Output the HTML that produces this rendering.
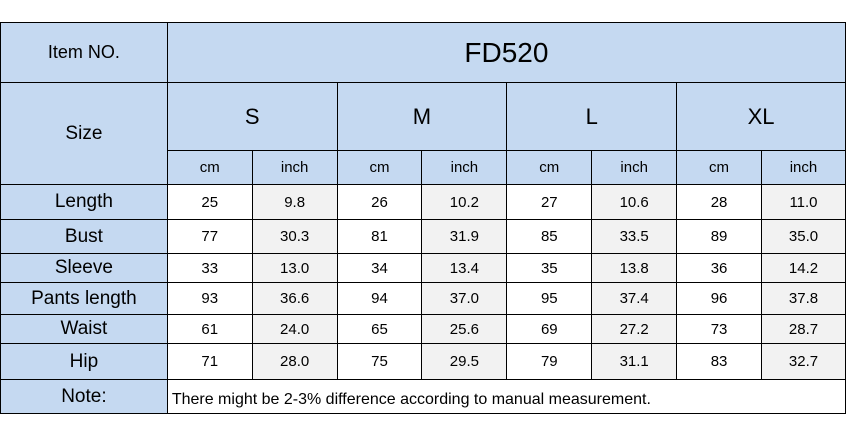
<!DOCTYPE html>
<html><head><meta charset="utf-8"><style>
html,body{margin:0;padding:0;background:#fff;width:846px;height:432px;overflow:hidden;}
table{position:absolute;left:0;top:22px;border-collapse:collapse;table-layout:fixed;font-family:"Liberation Sans",sans-serif;color:#000;}
td{border:1.5px solid #000;padding:0;text-align:center;vertical-align:middle;background:#fff;font-size:15px;}
td.h{background:#c5d9f1;}
td.g{background:#f2f2f2;}
td.lab{background:#c5d9f1;font-size:19px;}
</style></head><body>
<table>
<colgroup><col style="width:167px"><col style="width:85px"><col style="width:85px"><col style="width:85px"><col style="width:85px"><col style="width:85px"><col style="width:85px"><col style="width:85px"><col style="width:84px"></colgroup>
<tr style="height:60px"><td class="h" style="font-size:18px">Item NO.</td><td class="h" colspan="8" style="font-size:28px">FD520</td></tr>
<tr style="height:68px"><td class="h" rowspan="2" style="font-size:19px">Size</td>
<td class="h" colspan="2" style="font-size:22px">S</td>
<td class="h" colspan="2" style="font-size:22px">M</td>
<td class="h" colspan="2" style="font-size:22px">L</td>
<td class="h" colspan="2" style="font-size:22px">XL</td></tr>
<tr style="height:34px">
<td class="h">cm</td><td class="h">inch</td>
<td class="h">cm</td><td class="h">inch</td>
<td class="h">cm</td><td class="h">inch</td>
<td class="h">cm</td><td class="h">inch</td></tr>
<tr style="height:35px"><td class="lab">Length</td><td>25</td><td class="g">9.8</td><td>26</td><td class="g">10.2</td><td>27</td><td class="g">10.6</td><td>28</td><td class="g">11.0</td></tr>
<tr style="height:34px"><td class="lab">Bust</td><td>77</td><td class="g">30.3</td><td>81</td><td class="g">31.9</td><td>85</td><td class="g">33.5</td><td>89</td><td class="g">35.0</td></tr>
<tr style="height:29px"><td class="lab">Sleeve</td><td>33</td><td class="g">13.0</td><td>34</td><td class="g">13.4</td><td>35</td><td class="g">13.8</td><td>36</td><td class="g">14.2</td></tr>
<tr style="height:32px"><td class="lab">Pants length</td><td>93</td><td class="g">36.6</td><td>94</td><td class="g">37.0</td><td>95</td><td class="g">37.4</td><td>96</td><td class="g">37.8</td></tr>
<tr style="height:29px"><td class="lab">Waist</td><td>61</td><td class="g">24.0</td><td>65</td><td class="g">25.6</td><td>69</td><td class="g">27.2</td><td>73</td><td class="g">28.7</td></tr>
<tr style="height:36px"><td class="lab">Hip</td><td>71</td><td class="g">28.0</td><td>75</td><td class="g">29.5</td><td>79</td><td class="g">31.1</td><td>83</td><td class="g">32.7</td></tr>
<tr style="height:34px"><td class="lab">Note:</td><td colspan="8" style="text-align:left;padding-left:4px;padding-top:6px;font-size:16px">There might be 2-3% difference according to manual measurement.</td></tr>
</table>
</body></html>
